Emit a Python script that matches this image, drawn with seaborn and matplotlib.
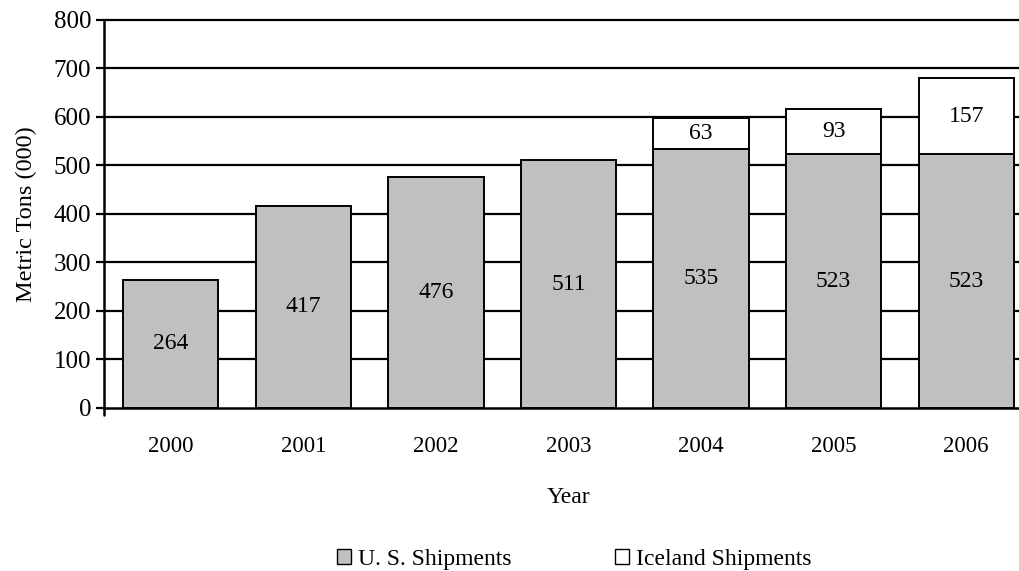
import matplotlib
matplotlib.use("Agg")
import matplotlib.pyplot as plt
import seaborn as sns
import pandas as pd
from matplotlib.patches import Patch

years = ["2000", "2001", "2002", "2003", "2004", "2005", "2006"]
us_shipments = [264, 417, 476, 511, 535, 523, 523]
iceland_shipments = [0, 0, 0, 0, 63, 93, 157]
series_names = ["U. S. Shipments", "Iceland Shipments"]
y_ticks = [0, 100, 200, 300, 400, 500, 600, 700, 800]

sns.set_theme(style="white")
plt.rcParams["font.family"] = ["Liberation Serif", "DejaVu Serif"]
plt.rcParams.update({"text.color": "black", "axes.labelcolor": "black",
                     "xtick.color": "black", "ytick.color": "black"})

df = pd.DataFrame({"Year": years, "US": us_shipments, "Iceland": iceland_shipments})
ice = df[df["Iceland"] > 0]

fig = plt.figure(figsize=(10.2, 5.71), dpi=100)
ax = fig.add_axes([0.1023, 0.2855, 0.91, 0.6795])

for y in y_ticks[1:]:
    ax.axhline(y, color="black", lw=1.6, zorder=0, clip_on=False)

sns.barplot(data=df, x="Year", y="US", order=years, color="#C0C0C0",
            edgecolor="black", linewidth=1.4, width=0.72, saturation=1,
            ax=ax, zorder=2)
sns.barplot(data=ice, x="Year", y="Iceland", order=years, color="white",
            edgecolor="black", linewidth=1.4, width=0.72, saturation=1,
            bottom=ice["US"].values, ax=ax, zorder=2)

for i, (u, c) in enumerate(zip(us_shipments, iceland_shipments)):
    ax.text(i, u / 2, str(u), ha="center", va="center", fontsize=17, color="black", zorder=3)
    if c > 0:
        ax.text(i, u + c / 2, str(c), ha="center", va="center", fontsize=17, color="black", zorder=3)

ax.set_xlim(-0.5, 6.5)
ax.set_ylim(0, 800)
ax.set_yticks(y_ticks)
ax.set_yticklabels([str(t) for t in y_ticks], fontsize=18)
ax.tick_params(axis="y", which="both", left=True, length=6, width=1.6, color="black", pad=3.5)
ax.tick_params(axis="x", bottom=False, length=0, labelsize=16.5, pad=20.5)
for s in ["top", "right"]:
    ax.spines[s].set_visible(False)
for s in ["left", "bottom"]:
    ax.spines[s].set_color("black")
    ax.spines[s].set_linewidth(1.8)
    ax.spines[s].set_zorder(4)
# small extension of the value axis below the category axis
ax.plot([0, 0], [0, -0.017], transform=ax.transAxes, color="black", lw=1.8,
        clip_on=False, zorder=4)

ax.set_xlabel("Year", fontsize=17, labelpad=21)
ax.set_ylabel("Metric Tons (000)", fontsize=17.5, labelpad=12)

handles = [Patch(facecolor="#C0C0C0", edgecolor="black", lw=1.0),
           Patch(facecolor="white", edgecolor="black", lw=1.0)]
fig.legend(handles, series_names, loc="center", bbox_to_anchor=(0.563, 0.02),
           ncol=2, frameon=False, fontsize=17, handlelength=0.6, handleheight=0.6,
           handletextpad=0.3, columnspacing=4.4)

fig.savefig("out.png", dpi=100)
